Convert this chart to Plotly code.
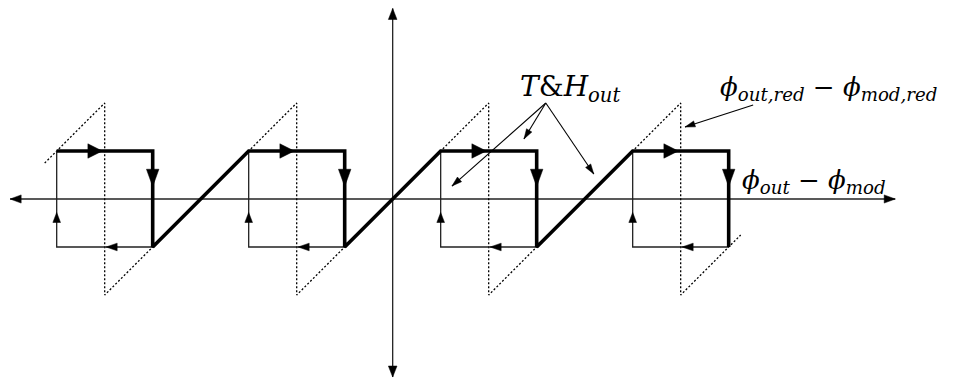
import plotly.graph_objects as go

# Hysteresis schematic: track-and-hold output phase vs. phase difference,
# with the reduced (wrapped) phase shown dotted.
loop_centres = [-6, -2, 2, 6]
loop_half_width = 1.0
loop_half_height = 1.0
wrap_height = 2.0          # reduced phase wraps at +/- this value
dotted_overhang = 0.25     # how far the dotted ramps run past the loop corners

x_axis_span = [-7.97, 10.47]
y_axis_span = [-3.71, 3.97]

th_label_text = "<i>T</i>&amp;<i>H</i><sub><i>out</i></sub>"
th_label_pos = (3.70, 2.30)
th_label_source = (3.19, 2.0)
th_label_targets = [(1.235, 0.27), (2.735, 1.25), (4.19, 0.52)]

red_label_text = "<i>ϕ</i><sub><i>out,red</i></sub> − <i>ϕ</i><sub><i>mod,red</i></sub>"
red_label_pos = (9.07, 2.30)
red_label_arrow = [(7.51, 1.96), (6.09, 1.5)]

axis_label_text = "<i>ϕ</i><sub><i>out</i></sub> − <i>ϕ</i><sub><i>mod</i></sub>"
axis_label_pos = (8.78, 0.36)

X_RANGE = [-8.181, 11.840]
Y_RANGE = [-3.792, 4.146]
FONT = "DejaVu Serif"


def triangle(tip, direction, length, half_width):
    tx, ty = tip
    dx, dy = direction
    nx, ny = -dy, dx
    bx, by = tx - dx * length, ty - dy * length
    return [(tx, ty), (bx + nx * half_width, by + ny * half_width),
            (bx - nx * half_width, by - ny * half_width), (tx, ty)]


def polyline(segments):
    xs, ys = [], []
    for seg in segments:
        for px, py in seg:
            xs.append(px)
            ys.append(py)
        xs.append(None)
        ys.append(None)
    return xs, ys


w, h = loop_half_width, loop_half_height

# dotted reduced phase: ramp up to the wrap point, drop, ramp on
dotted = []
for c in loop_centres:
    dotted.append([(c - w - dotted_overhang, h - dotted_overhang), (c, wrap_height),
                   (c, -wrap_height), (c + w + dotted_overhang, -h + dotted_overhang)])

# thin return branches of each loop
thin = []
for c in loop_centres:
    thin.append([(c + w, -h), (c - w, -h), (c - w, h)])

# thick forward path through all loops
thick_pts = []
for c in loop_centres:
    thick_pts += [(c - w, h), (c + w, h), (c + w, -h)]

heads_thick = []
heads_thin = []
for c in loop_centres:
    heads_thick.append(triangle((c - 0.05, h), (1, 0), 0.30, 0.15))
    heads_thick.append(triangle((c + w, 0.26), (0, -1), 0.36, 0.13))
    heads_thin.append(triangle((c + 0.03, -h), (-1, 0), 0.23, 0.08))
    heads_thin.append(triangle((c - w, -0.28), (0, 1), 0.21, 0.08))

axis_heads = [
    triangle((x_axis_span[0], 0), (-1, 0), 0.23, 0.085),
    triangle((x_axis_span[1], 0), (1, 0), 0.23, 0.085),
    triangle((0, y_axis_span[0]), (0, -1), 0.23, 0.09),
    triangle((0, y_axis_span[1]), (0, 1), 0.23, 0.09),
]

pointer_lines = [[th_label_source, t] for t in th_label_targets] + [red_label_arrow]
pointer_heads = []
for (sx, sy), (tx, ty) in pointer_lines:
    dx, dy = tx - sx, ty - sy
    n = (dx * dx + dy * dy) ** 0.5
    pointer_heads.append(triangle((tx, ty), (dx / n, dy / n), 0.21, 0.065))

fig = go.Figure()


def add_lines(segments, width, dash="solid", color="black"):
    xs, ys = polyline(segments)
    fig.add_trace(go.Scatter(x=xs, y=ys, mode="lines", hoverinfo="skip",
                             line=dict(color=color, width=width, dash=dash),
                             showlegend=False))


def add_fill(polys):
    xs, ys = polyline(polys)
    fig.add_trace(go.Scatter(x=xs, y=ys, mode="lines", fill="toself",
                             fillcolor="black", hoverinfo="skip",
                             line=dict(color="black", width=0.5),
                             showlegend=False))


# coordinate axes
add_lines([[(x_axis_span[0], 0), (x_axis_span[1], 0)],
           [(0, y_axis_span[0]), (0, y_axis_span[1])]], 1.3, color="#222")
add_fill(axis_heads)

add_lines(dotted, 1.3, dash="2px,2px")
add_lines(thin, 1.3, color="#222")
add_lines([thick_pts], 3.6)
add_fill(heads_thick)
add_fill(heads_thin)

add_lines(pointer_lines, 1.1)
add_fill(pointer_heads)

annotations = [
    dict(x=th_label_pos[0], y=th_label_pos[1], text=th_label_text,
         font=dict(size=28)),
    dict(x=red_label_pos[0], y=red_label_pos[1], text=red_label_text,
         font=dict(size=26)),
    dict(x=axis_label_pos[0], y=axis_label_pos[1], text=axis_label_text,
         font=dict(size=26)),
]
for a in annotations:
    a.update(xref="x", yref="y", showarrow=False, xanchor="center", yanchor="middle")
    a["font"].update(family=FONT, color="black")

fig.update_layout(
    width=961, height=381,
    margin=dict(l=0, r=0, t=0, b=0),
    paper_bgcolor="white", plot_bgcolor="white",
    xaxis=dict(range=X_RANGE, visible=False, fixedrange=True),
    yaxis=dict(range=Y_RANGE, visible=False, fixedrange=True),
    annotations=annotations,
)

fig.write_html("out.html")
